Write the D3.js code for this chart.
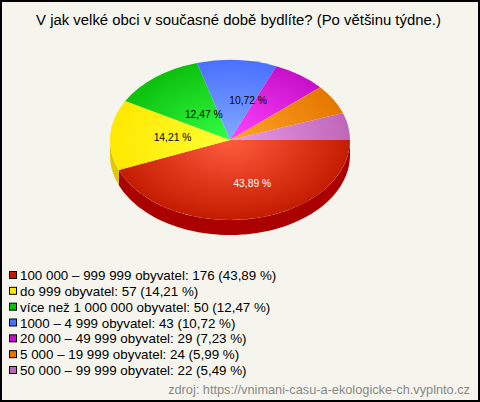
<!DOCTYPE html>
<html><head><meta charset="utf-8">
<script src="https://cdn.jsdelivr.net/npm/d3@7"></script>
<style>html,body{margin:0;padding:0;background:#fff}svg{display:block}text{font-family:"Liberation Sans",Arial,sans-serif}</style>
</head><body><svg id="c" width="480" height="402"></svg>
<script>
const title = "V jak velké obci v současné době bydlíte? (Po většinu týdne.)";
const source = "zdroj: https://vnimani-casu-a-ekologicke-ch.vyplnto.cz";
const categories = ["100 000 – 999 999 obyvatel","do 999 obyvatel","více než 1 000 000 obyvatel","1000 – 4 999 obyvatel","20 000 – 49 999 obyvatel","5 000 – 19 999 obyvatel","50 000 – 99 999 obyvatel"];
const counts = [176,57,50,43,29,24,22];
const percents = ["43,89","14,21","12,47","10,72","7,23","5,99","5,49"];
const innerColors = ["#ff5c3e","#ffff33","#33ff44","#82a9ff","#ff44ff","#ffa526","#e89ce8"];
const outerColors = ["#c41c00","#ffe800","#0cc00c","#4a70ff","#c80fc8","#e57700","#c066b8"];
const sideColors = ["#aa0000","#e0c800","#0a9a0a","#3a58cc","#a00ca0","#b85f00","#9a5290"];
const swatchColors = ["#c41c00","#ffe800","#0cc00c","#4a70ff","#c80fc8","#e57700","#c066b8"];
const labelColors = ["#fff","#000","#000","#000",null,null,null];
const labelShiftX = [9,12,17,14,0,0,0];
const labelShiftY = [-2,0,11,7,0,0,0];

const W=480,H=402,cx=230,cy=140,rx=120,ry=80,depth=15;
const svg=d3.select("#c");
svg.append("rect").attr("x",1).attr("y",1).attr("width",W-2).attr("height",H-2).attr("fill","#f5f5ee").attr("stroke","#000").attr("stroke-width",2);
svg.append("text").attr("x",238.5).attr("y",25).attr("text-anchor","middle").attr("font-size",14.9).attr("fill","#000").text(title);

const defs=svg.append("defs");
const pie=d3.pie().sort(null).startAngle(Math.PI/2).endAngle(Math.PI/2+2*Math.PI);
const arcs=pie(counts);
arcs.forEach((d,i)=>{
  const g=defs.append("radialGradient").attr("id","g"+i).attr("gradientUnits","userSpaceOnUse").attr("cx",0).attr("cy",0).attr("r",rx);
  g.append("stop").attr("offset",0).attr("stop-color",innerColors[i]);
  g.append("stop").attr("offset",1).attr("stop-color",outerColors[i]);
});
const side=d3.area().x(t=>cx+rx*Math.cos(t)).y0(t=>cy+ry*Math.sin(t)).y1(t=>cy+ry*Math.sin(t)+depth);
arcs.forEach((d,i)=>{
  const a0=d.startAngle-Math.PI/2,a1=Math.min(d.endAngle-Math.PI/2,Math.PI);
  if(a0>=Math.PI) return;
  const n=60,ts=d3.range(n+1).map(k=>a0+(a1-a0)*k/n);
  svg.append("path").attr("d",side(ts)).attr("fill",sideColors[i]);
});
const arc=d3.arc().innerRadius(0).outerRadius(rx);
const face=svg.append("g").attr("transform",`translate(${cx},${cy}) scale(1,${ry/rx})`);
face.selectAll("path").data(arcs).join("path").attr("d",arc).attr("fill",(d,i)=>`url(#g${i})`);
const labelArc=d3.arc().innerRadius(rx*0.58).outerRadius(rx*0.58);
arcs.forEach((d,i)=>{
  if(!labelColors[i]) return;
  const [x,y]=labelArc.centroid(d);
  svg.append("text").attr("x",cx+x+labelShiftX[i]).attr("y",cy+y*ry/rx+3.5+labelShiftY[i]).attr("text-anchor","middle").attr("font-size",10.3).attr("fill",labelColors[i]).text(percents[i]+" %");
});
const legendY=d3.scalePoint().domain(d3.range(categories.length)).range([274,369]);
categories.forEach((c,i)=>{
  const y=legendY(i);
  svg.append("rect").attr("x",9.5).attr("y",y-2.5).attr("width",7).attr("height",7).attr("fill",swatchColors[i]).attr("stroke","#000").attr("stroke-width",1);
  svg.append("text").attr("x",20).attr("y",y+6).attr("font-size",13.37).attr("fill","#000").text(`${c}: ${counts[i]} (${percents[i]} %)`);
});
svg.append("text").attr("x",470).attr("y",394).attr("text-anchor","end").attr("font-size",12.75).attr("fill","#888").text(source);
</script></body></html>
